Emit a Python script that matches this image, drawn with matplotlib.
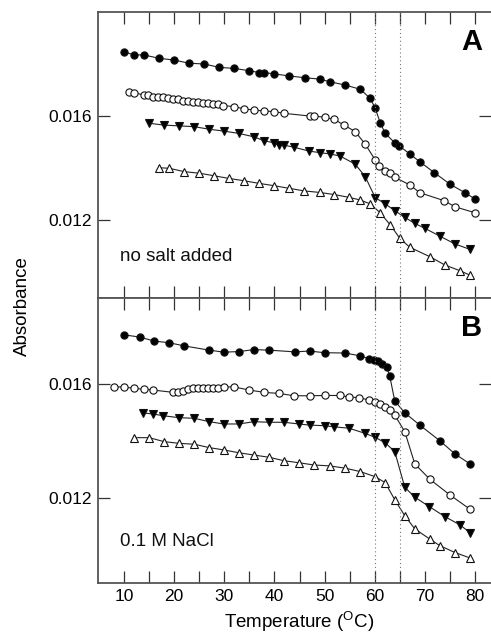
import numpy as np
import matplotlib
matplotlib.use("Agg")
import matplotlib.pyplot as plt

plt.rcParams['font.family'] = ['Liberation Sans', 'DejaVu Sans']

# ---- panel A: no salt added ----
a_fc_t = [9.9, 12, 13.9, 17, 20, 23, 26, 29, 32, 35, 37, 37.9, 39.9, 43, 46.1, 49, 51, 54.1, 57.1,
          59.1, 60.1, 61.1, 62.1, 64, 64.9, 67, 69, 71.9, 75, 78, 80]
a_fc_a = [0.01847, 0.01835, 0.01835, 0.01822, 0.01815, 0.01803, 0.0180, 0.01787, 0.01783, 0.01774,
          0.01767, 0.01767, 0.01762, 0.01754, 0.01747, 0.01742, 0.01732, 0.01719, 0.01703,
          0.01668, 0.0163, 0.01574, 0.01533, 0.01497, 0.01485, 0.01454, 0.01424, 0.01382,
          0.01338, 0.01305, 0.01281]

a_oc_t = [10.9, 11.9, 13.9, 14.8, 15.8, 16.8, 17.8, 18.8, 19.8, 20.8, 21.8, 22.8, 23.8, 24.8, 25.8,
          26.8, 27.8, 28.8, 29.8, 32, 34, 36, 37.9, 39.9, 42, 47, 47.9, 50, 51.9, 53.9, 56.1,
          58.1, 60.1, 60.9, 62.1, 63.1, 64, 67, 69, 73.9, 76, 80]
a_oc_a = [0.01691, 0.0169, 0.01681, 0.01681, 0.01674, 0.01672, 0.01672, 0.01668, 0.01665, 0.01664,
          0.01659, 0.01658, 0.01655, 0.01653, 0.01651, 0.01649, 0.01646, 0.01645, 0.0164,
          0.01636, 0.01627, 0.01623, 0.01619, 0.01617, 0.0161, 0.016, 0.016, 0.01595, 0.01587,
          0.01565, 0.0154, 0.01492, 0.01431, 0.01409, 0.0139, 0.01382, 0.01364, 0.01335,
          0.01305, 0.01274, 0.01251, 0.01228]

a_ft_t = [15, 18, 21, 24, 27, 29.9, 32.9, 35.9, 37.9, 39.9, 40.9, 41.9, 43.9, 46.9, 49.1, 51.1, 53.1,
          56.1, 58.1, 60.1, 62.1, 64, 66, 68, 70, 73, 76, 79]
a_ft_a = [0.01572, 0.01565, 0.01562, 0.01559, 0.01549, 0.01542, 0.01533, 0.0152, 0.01505, 0.01497,
          0.01488, 0.01488, 0.0148, 0.01465, 0.01459, 0.01454, 0.01446, 0.01415, 0.01367,
          0.01286, 0.01262, 0.01236, 0.0121, 0.01187, 0.01168, 0.01138, 0.01108, 0.01087]

a_ot_t = [17, 19, 22, 25, 28, 30.9, 33.9, 36.9, 39.9, 42.9, 45.9, 49, 51.9, 54.9, 57.1, 59.1, 61.1,
          63.1, 65, 67, 71, 74, 77, 79]
a_ot_a = [0.01401, 0.01399, 0.01386, 0.0138, 0.0137, 0.0136, 0.01351, 0.01341, 0.01332, 0.01322,
          0.01312, 0.01306, 0.01298, 0.01287, 0.01277, 0.01262, 0.01228, 0.01181, 0.0113,
          0.01095, 0.01059, 0.01027, 0.01005, 0.00988]

# ---- panel B: 0.1 M NaCl ----
b_fc_t = [9.9, 13.1, 16, 19, 22, 27, 29.9, 32.9, 35.9, 39, 44.1, 47, 50, 54.1, 57.1, 58.9, 59.8,
          60.6, 61.5, 62.4, 63, 64, 66, 69, 73, 76, 79]
b_fc_a = [0.01771, 0.01763, 0.01749, 0.01743, 0.01732, 0.01717, 0.0171, 0.01712, 0.01719, 0.01717,
          0.01711, 0.01714, 0.01708, 0.01707, 0.01697, 0.01687, 0.01682, 0.01678, 0.0167,
          0.01658, 0.01626, 0.01539, 0.01497, 0.01454, 0.01399, 0.01353, 0.01318]

b_oc_t = [7.9, 9.9, 11.9, 13.9, 15.8, 19.8, 20.8, 21.8, 22.8, 23.8, 24.8, 25.8, 26.8, 27.8, 28.8,
          29.9, 31.9, 35, 37.9, 41, 43.9, 47, 50, 53, 54.9, 56.9, 58.9, 60.1, 61.1, 62.1, 63.1,
          64, 66, 68, 71, 75, 79]
b_oc_a = [0.01588, 0.01588, 0.01583, 0.0158, 0.01577, 0.01569, 0.01571, 0.01573, 0.01579, 0.01583,
          0.01583, 0.01585, 0.01585, 0.01585, 0.01585, 0.01588, 0.01588, 0.01577, 0.01569,
          0.01565, 0.01557, 0.01557, 0.01558, 0.01558, 0.01553, 0.0155, 0.01542, 0.01536,
          0.01528, 0.01518, 0.01507, 0.01489, 0.01431, 0.01318, 0.01264, 0.01209, 0.01159]

b_ft_t = [13.7, 15.8, 17.8, 21, 24, 27, 29.9, 32.9, 35.9, 39, 41.9, 44.9, 47, 50, 51.9, 54.9, 58.1,
          60.1, 62.1, 64, 66, 68, 70.9, 74, 77, 79]
b_ft_a = [0.01497, 0.01493, 0.01487, 0.0148, 0.01478, 0.01466, 0.01458, 0.01458, 0.01466, 0.01464,
          0.01464, 0.01458, 0.01454, 0.01452, 0.01448, 0.01443, 0.01425, 0.01411, 0.01392,
          0.01361, 0.01236, 0.01201, 0.01168, 0.01133, 0.01104, 0.01077]

b_ot_t = [11.9, 15, 18, 21, 24, 27, 29.9, 32.9, 35.9, 39, 41.9, 44.9, 47.9, 51, 54.1, 57.1, 60.1,
          62.1, 64, 66, 68, 71, 73, 76, 79]
b_ot_a = [0.0141, 0.0141, 0.01396, 0.0139, 0.01387, 0.01375, 0.01367, 0.01357, 0.01349, 0.01341,
          0.01329, 0.01322, 0.01314, 0.01311, 0.01303, 0.01291, 0.01273, 0.01252, 0.01192,
          0.01136, 0.0109, 0.01054, 0.01031, 0.01007, 0.00988]

x_ticks = np.arange(10, 81, 5)
x_labels = ['10', '', '20', '', '30', '', '40', '', '50', '', '60', '', '70', '', '80']
y_ticks = [0.012, 0.016]
y_labels = ['0.012', '0.016']
marks = [60, 65]

fig = plt.figure(figsize=(4.91, 6.38), dpi=100)
ax1 = fig.add_axes([0.1996, 0.5329, 0.8004, 0.4483])
ax2 = fig.add_axes([0.1996, 0.0862, 0.8004, 0.4467])

line_kw = dict(color='#222222', lw=0.8, mec='#111111', mew=0.8)


def draw(ax, series, ylim, note, letter, show_x):
    fc, oc, ft, ot = series
    ax.plot(*fc, marker='o', ms=5.2, mfc='black', **line_kw)
    ax.plot(*oc, marker='o', ms=5.2, mfc='white', **line_kw)
    ax.plot(*ft, marker='v', ms=5.5, mfc='black', **line_kw)
    ax.plot(*ot, marker='^', ms=5.5, mfc='white', **line_kw)
    for m in marks:
        ax.axvline(m, color='#777777', lw=0.8, ls=(0, (1, 2.5)))
    ax.set_xlim(4.8, 83.2)
    ax.set_ylim(*ylim)
    ax.set_xticks(x_ticks)
    ax.set_yticks(y_ticks)
    ax.set_yticklabels(y_labels)
    if show_x:
        ax.set_xticklabels(x_labels)
    else:
        ax.set_xticklabels([])
    ax.tick_params(direction='in', length=8.5, width=0.9, color='#333333',
                   top=True, right=True, labelsize=12.5, pad=4.5)
    for s in ax.spines.values():
        s.set_color('#555555')
        s.set_linewidth(1.3)
    ax.spines['right'].set_visible(False)
    ax.text(0.055, 0.13, note, transform=ax.transAxes, fontsize=13.5, color='#111111')
    ax.text(0.977, 0.895, letter, transform=ax.transAxes, fontsize=21,
            fontweight='bold', ha='right', va='center')


draw(ax1, [(a_fc_t, a_fc_a), (a_oc_t, a_oc_a), (a_ft_t, a_ft_a), (a_ot_t, a_ot_a)],
     (0.009, 0.020), 'no salt added', 'A', False)
draw(ax2, [(b_fc_t, b_fc_a), (b_oc_t, b_oc_a), (b_ft_t, b_ft_a), (b_ot_t, b_ot_a)],
     (0.009, 0.019), '0.1 M NaCl', 'B', True)

fig.text(0.046, 0.52, 'Absorbance', rotation=90, ha='center', va='center', fontsize=13.5)
fig.text(0.61, 0.006, r'Temperature ($^{\mathregular{O}}$C)', ha='center', va='bottom',
         fontsize=13.5)

fig.savefig('out.png', dpi=100)
